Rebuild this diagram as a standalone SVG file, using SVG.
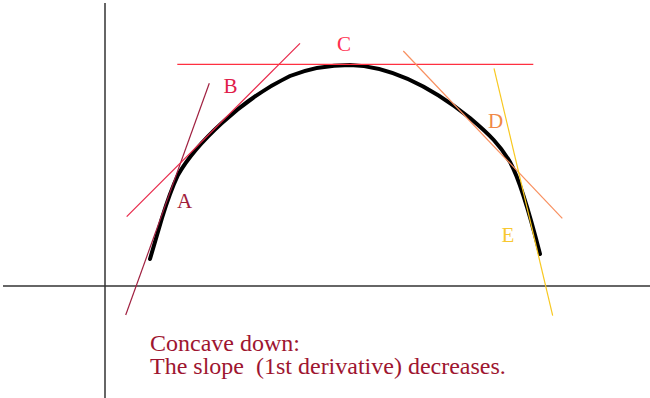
<svg xmlns="http://www.w3.org/2000/svg" width="650" height="398" viewBox="0 0 650 398">
<style>
.lbl{font-family:"Liberation Serif","Times New Roman",serif;font-size:21px}
.note{font-family:"Liberation Serif","Times New Roman",serif;font-size:24px;fill:#9e1530}
.tan{stroke-width:1.2;fill:none}
.axis{stroke:#333;stroke-width:1.5;fill:none}
</style>
<rect width="650" height="398" fill="#fff"/>
<g id="axes">
<line class="axis" x1="105" y1="3" x2="105" y2="398"/>
<line class="axis" x1="3" y1="286" x2="650" y2="286"/>
</g>
<g id="curve">
<path d="M150,259 L162,218 Q170,192 178,175 C195,145 240,100 290,76 C310,68 330,65 350,65 C390,66 430,86 470,118 C490,135 500,145 510,162 C520,180 530,215 540,254" stroke="#000" stroke-width="4" fill="none" stroke-linecap="round"/>
</g>
<g id="connectors">
<line class="tan" x1="125.7" y1="315" x2="209.3" y2="83.3" stroke="#a02040"/>
<line class="tan" x1="126.7" y1="216.7" x2="300" y2="43.3" stroke="#e8284a"/>
<line class="tan" x1="177.3" y1="64.3" x2="533.3" y2="64.3" stroke="#ff3040"/>
<line class="tan" x1="403.3" y1="51" x2="562.3" y2="218.3" stroke="#f89060"/>
<line class="tan" x1="494" y1="68.3" x2="552.7" y2="315.7" stroke="#f8c820"/>
</g>
<g id="A"><text class="lbl" x="177" y="208" fill="#a0203a">A</text></g>
<g id="B"><text class="lbl" x="223.5" y="93" fill="#e0204a">B</text></g>
<g id="C"><text class="lbl" x="337" y="51" fill="#ff3050">C</text></g>
<g id="D"><text class="lbl" x="488" y="128" fill="#f08848">D</text></g>
<g id="E"><text class="lbl" x="501.5" y="242" fill="#f8c830">E</text></g>
<g id="caption">
<text class="note" x="150" y="350.5">Concave down:</text>
<text class="note" x="150" y="374" xml:space="preserve">The slope  (1st derivative) decreases.</text>
</g>
</svg>
